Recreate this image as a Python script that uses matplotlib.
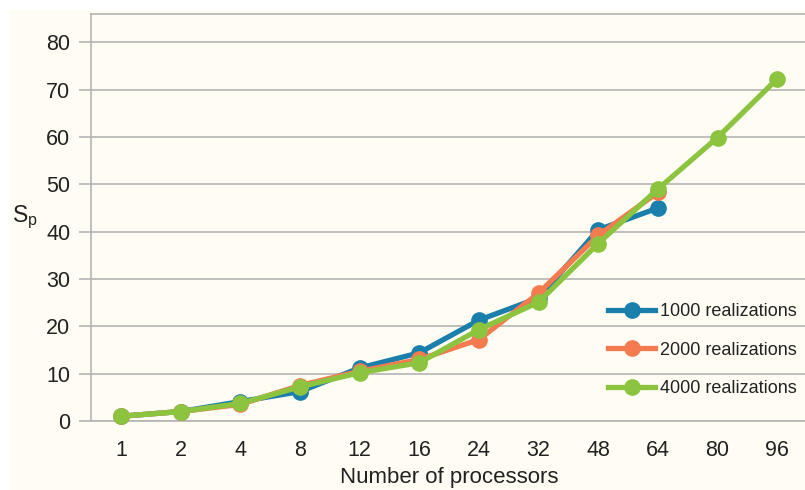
import matplotlib.pyplot as plt
from matplotlib.patches import Rectangle

plt.rcParams['font.family'] = ['Liberation Sans', 'DejaVu Sans']

processors = ['1', '2', '4', '8', '12', '16', '24', '32', '48', '64', '80', '96']
sp_1000 = [1.0, 2.0, 4.1, 6.2, 11.2, 14.4, 21.3, 26.0, 40.4, 45.0]
sp_2000 = [1.0, 2.0, 3.5, 7.5, 10.5, 13.0, 17.2, 27.0, 39.2, 48.3]
sp_4000 = [1.0, 2.0, 3.7, 7.2, 10.2, 12.3, 19.3, 25.1, 37.5, 49.0, 59.9, 72.3]

series = [
    (sp_1000, '1000 realizations', '#1a7fab'),
    (sp_2000, '2000 realizations', '#f47b4f'),
    (sp_4000, '4000 realizations', '#8cc43f'),
]

fig = plt.figure(figsize=(8.05, 4.9), dpi=100)
fig.patches.append(Rectangle((10 / 805, 0), 1, 1 - 10 / 490, transform=fig.transFigure,
                             facecolor='#fffdf3', edgecolor='none', zorder=-1))
ax = fig.add_axes([91 / 805, 69 / 490, 716 / 805, 407 / 490])
ax.set_facecolor('#fffdf3')

x = list(range(len(processors)))
for vals, label, color in series:
    ax.plot(x[:len(vals)], vals, color=color, lw=3.8, marker='o', ms=11,
            label=label, clip_on=False, zorder=3)

ax.set_xlim(-0.5, 11.5)
ax.set_ylim(0, 86)
ax.set_yticks(range(0, 81, 10))
ax.set_xticks(x)
ax.set_xticklabels(processors)
ax.grid(axis='y', color='#b4b4b4', lw=1.2)
ax.set_axisbelow(True)

for side in ['top', 'left', 'bottom']:
    ax.spines[side].set_color('#b4b4b4')
    ax.spines[side].set_linewidth(1.2)
ax.spines['right'].set_visible(False)
ax.tick_params(axis='y', length=9, color='#b4b4b4', width=1.2, labelsize=15.5,
               labelcolor='#222222', pad=6)
ax.tick_params(axis='x', length=0, labelsize=15.5, labelcolor='#222222', pad=14)

ax.set_xlabel('Number of processors', fontsize=16, color='#222222', labelpad=4)
ax.text(-0.093, 0.5, 'S$_\\mathregular{p}$', transform=ax.transAxes, fontsize=16.5,
        color='#222222', ha='center', va='center')

ax.legend(loc='center left', bbox_to_anchor=(0.7, 0.174), frameon=False,
          fontsize=13, handlelength=2.6, handletextpad=0.25, labelspacing=1.2,
          labelcolor='#222222')

fig.savefig('out.png', dpi=100)
